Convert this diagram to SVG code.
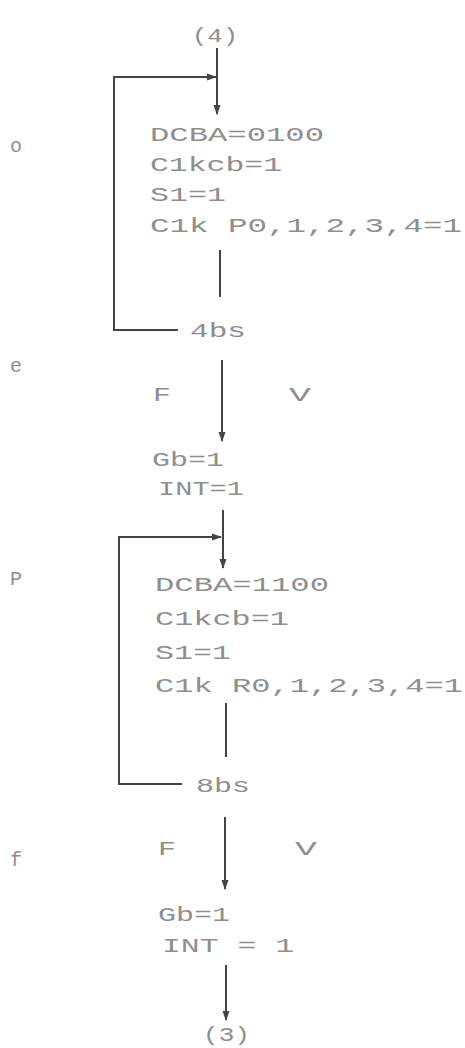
<svg xmlns="http://www.w3.org/2000/svg" width="465" height="1048" viewBox="0 0 465 1048">
<style>
.t{font-family:"Liberation Mono","DejaVu Sans Mono",monospace;font-size:20px;fill:#8e8e8e}
.c{fill:none;stroke:#444444;stroke-width:2}
</style>
<defs>
<marker id="ah" viewBox="0 0 10 10" refX="9" refY="5" markerWidth="10" markerHeight="10" markerUnits="userSpaceOnUse" orient="auto">
<path d="M0,1.5 L10,5 L0,8.5 Z" fill="#444444"/>
</marker>
</defs>
<rect width="465" height="1048" fill="#ffffff"/>
<g id="connectors">
<path class="c" d="M217,48 V114" marker-end="url(#ah)"/>
<path class="c" d="M178,330 H114 V77 H216" marker-end="url(#ah)"/>
<path class="c" d="M220,250 V297"/>
<path class="c" d="M222,360 V441" marker-end="url(#ah)"/>
<path class="c" d="M223,510 V568" marker-end="url(#ah)"/>
<path class="c" d="M182,784 H119 V537 H221" marker-end="url(#ah)"/>
<path class="c" d="M226,703 V757"/>
<path class="c" d="M225,817 V889" marker-end="url(#ah)"/>
<path class="c" d="M226,965 V1020" marker-end="url(#ah)"/>
<text class="t" x="153" y="401" textLength="18" lengthAdjust="spacingAndGlyphs">F</text>
<text class="t" x="289" y="401" textLength="22" lengthAdjust="spacingAndGlyphs">V</text>
<text class="t" x="158" y="855" textLength="18" lengthAdjust="spacingAndGlyphs">F</text>
<text class="t" x="295" y="855" textLength="22" lengthAdjust="spacingAndGlyphs">V</text>
</g>
<g id="start">
<text class="t" x="192" y="42" textLength="46" lengthAdjust="spacingAndGlyphs">(4)</text>
</g>
<g id="state-o">
<text class="t" x="150" y="141" textLength="174" lengthAdjust="spacingAndGlyphs">DCBA=0100</text>
<text class="t" x="150" y="171" textLength="132" lengthAdjust="spacingAndGlyphs">C1kcb=1</text>
<text class="t" x="150" y="201" textLength="76" lengthAdjust="spacingAndGlyphs">S1=1</text>
<text class="t" x="150" y="232" textLength="312" lengthAdjust="spacingAndGlyphs">C1k P0,1,2,3,4=1</text>
</g>
<g id="cond-4bs">
<text class="t" x="190" y="337" textLength="56" lengthAdjust="spacingAndGlyphs">4bs</text>
</g>
<g id="state-e">
<text class="t" x="152" y="466" textLength="72" lengthAdjust="spacingAndGlyphs">Gb=1</text>
<text class="t" x="158" y="495" textLength="86" lengthAdjust="spacingAndGlyphs">INT=1</text>
</g>
<g id="state-p">
<text class="t" x="155" y="591" textLength="174" lengthAdjust="spacingAndGlyphs">DCBA=1100</text>
<text class="t" x="155" y="625" textLength="134" lengthAdjust="spacingAndGlyphs">C1kcb=1</text>
<text class="t" x="155" y="659" textLength="76" lengthAdjust="spacingAndGlyphs">S1=1</text>
<text class="t" x="155" y="692" textLength="308" lengthAdjust="spacingAndGlyphs">C1k R0,1,2,3,4=1</text>
</g>
<g id="cond-8bs">
<text class="t" x="196" y="792" textLength="54" lengthAdjust="spacingAndGlyphs">8bs</text>
</g>
<g id="state-f">
<text class="t" x="158" y="921" textLength="72" lengthAdjust="spacingAndGlyphs">Gb=1</text>
<text class="t" x="162" y="952" textLength="132" lengthAdjust="spacingAndGlyphs">INT = 1</text>
</g>
<g id="end">
<text class="t" x="203" y="1041" textLength="47" lengthAdjust="spacingAndGlyphs">(3)</text>
</g>
<g id="state-labels">
<text class="t" x="10" y="152">o</text>
<text class="t" x="10" y="372">e</text>
<text class="t" x="10" y="585">P</text>
<text class="t" x="10" y="866">f</text>
</g>
</svg>
